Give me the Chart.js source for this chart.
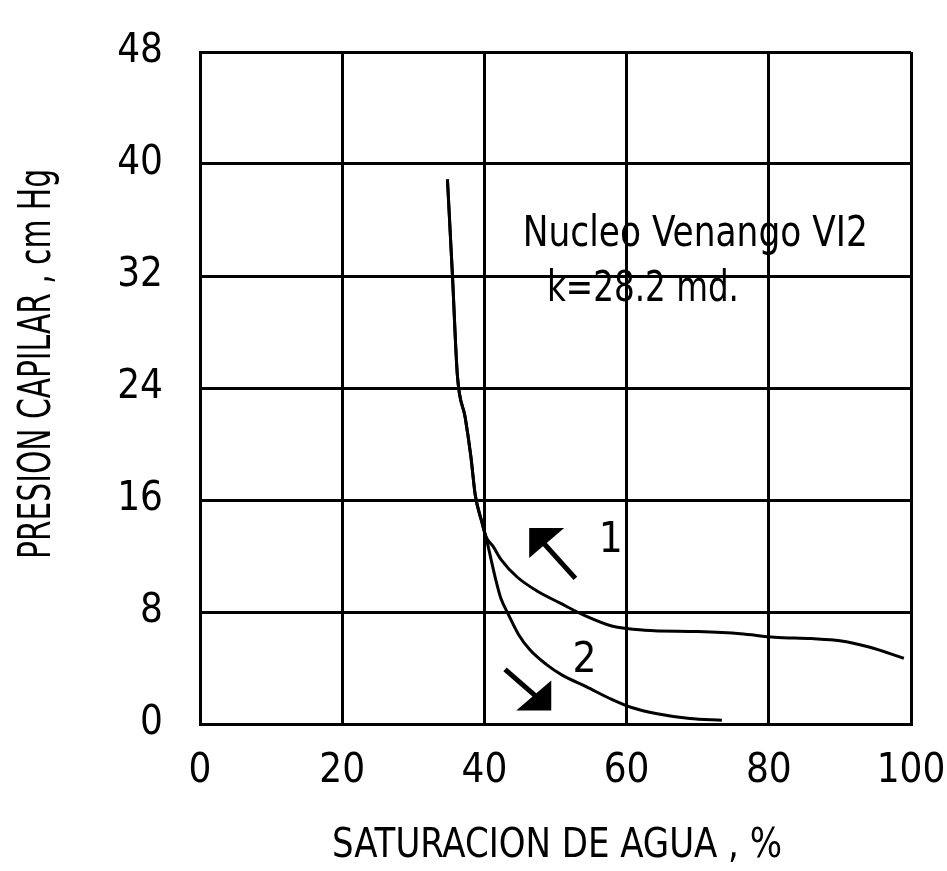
<!DOCTYPE html>
<html>
<head>
<meta charset="utf-8">
<title>Presion capilar</title>
<script src="https://cdn.jsdelivr.net/npm/chart.js@4.4.0/dist/chart.umd.min.js"></script>
<style>
  html, body { margin: 0; padding: 0; background: #fff; }
</style>
</head>
<body>
<canvas id="grafico" width="947" height="871"></canvas>
<script>
// ticks de los ejes
const ticksX = [0, 20, 40, 60, 80, 100]
const ticksY = [0, 8, 16, 24, 32, 40, 48]

const tituloX = 'SATURACION DE AGUA , %'
const tituloY = 'PRESION CAPILAR , cm Hg'

// tramo comun de las dos curvas (arriba)
const satComun = [34.8, 35.5, 36.2, 37.3, 38.1, 38.7, 39.6, 40.2]
const presComun = [38.9, 32.1, 24.9, 21.9, 19.1, 16.4, 14.5, 13.4]

// curva 1
const sat1 = [41.2, 42.4, 44.6, 47.4, 50.6, 54.3, 57.9, 62.5, 70.0, 76.0, 80.8, 86.0, 90.0, 94.1, 99.0]
const pres1 = [12.7, 11.7, 10.5, 9.5, 8.65, 7.7, 7.0, 6.7, 6.6, 6.45, 6.2, 6.1, 5.95, 5.5, 4.7]

// curva 2
const sat2 = [40.7, 41.6, 42.3, 43.4, 44.8, 46.4, 48.7, 51.0, 54.3, 57.9, 60.7, 64.3, 68.9, 73.4]
const pres2 = [12.3, 10.3, 9.0, 7.8, 6.4, 5.3, 4.26, 3.47, 2.67, 1.76, 1.18, 0.73, 0.39, 0.27]

// anotaciones (en unidades de los ejes), ancho = ancho del texto en px
const textos = [
    { texto: 'Nucleo Venango VI2', x: 45.4, y: 34.9, ancho: 345 },
    { texto: 'k=28.2 md.', x: 48.8, y: 31.0, ancho: 192 },
    { texto: '1', x: 56.1, y: 13.1, ancho: 0 },
    { texto: '2', x: 52.4, y: 4.5, ancho: 0 }
]
const flechas = [
    { desde: [52.8, 10.4], hasta: [46.3, 14.0] },
    { desde: [42.9, 3.9], hasta: [49.4, 0.96] }
]

const fuente = "'DejaVu Sans Condensed', 'DejaVu Sans', sans-serif"

function puntos(xs, ys) {
    let arr = []
    for (let i = 0; i < xs.length; i++) {
        arr.push({ x: xs[i], y: ys[i] })
    }
    return arr
}

// texto comprimido a lo ancho (la fuente original es muy estrecha)
function textoEstrecho(ctx, texto, x, y, ancho) {
    const natural = ctx.measureText(texto).width
    const k = ancho > 0 ? ancho / natural : 1
    ctx.save()
    ctx.translate(x, y)
    ctx.scale(k, 1)
    ctx.fillText(texto, 0, 0)
    ctx.restore()
}

const anotaciones = {
    id: 'anotaciones',
    afterDatasetsDraw(chart) {
        const ctx = chart.ctx
        const sx = chart.scales.x
        const sy = chart.scales.y
        ctx.save()
        ctx.fillStyle = '#000'
        ctx.strokeStyle = '#000'
        ctx.font = '42px ' + fuente
        ctx.textBaseline = 'middle'
        ctx.textAlign = 'left'
        textos.forEach(t => {
            textoEstrecho(ctx, t.texto, sx.getPixelForValue(t.x), sy.getPixelForValue(t.y), t.ancho)
        })

        flechas.forEach(f => {
            const x0 = sx.getPixelForValue(f.desde[0])
            const y0 = sy.getPixelForValue(f.desde[1])
            const x1 = sx.getPixelForValue(f.hasta[0])
            const y1 = sy.getPixelForValue(f.hasta[1])
            const dx = Math.sign(x0 - x1)
            const dy = Math.sign(y0 - y1)
            ctx.lineWidth = 5
            ctx.beginPath()
            ctx.moveTo(x0, y0)
            ctx.lineTo(x1 + dx * 8, y1 + dy * 8)
            ctx.stroke()
            ctx.beginPath()
            ctx.moveTo(x1, y1)
            ctx.lineTo(x1 + dx * 35, y1)
            ctx.lineTo(x1, y1 + dy * 30)
            ctx.closePath()
            ctx.fill()
        })

        // titulos de los ejes
        ctx.textAlign = 'center'
        ctx.font = '40px ' + fuente
        const w = ctx.measureText(tituloX).width
        ctx.save()
        ctx.translate(557, 847)
        ctx.scale(450 / w, 1)
        ctx.fillText(tituloX, 0, 0)
        ctx.restore()

        ctx.font = '45px ' + fuente
        const h = ctx.measureText(tituloY).width
        ctx.save()
        ctx.translate(38, 364)
        ctx.rotate(-Math.PI / 2)
        ctx.scale(390 / h, 1)
        ctx.fillText(tituloY, 0, 0)
        ctx.restore()

        ctx.restore()
    }
}

const linea = {
    borderColor: '#000',
    backgroundColor: '#000',
    borderWidth: 3,
    pointRadius: 0,
    cubicInterpolationMode: 'monotone',
    fill: false
}

new Chart(document.getElementById('grafico'), {
    type: 'line',
    data: {
        datasets: [
            { ...linea, label: '1', data: puntos(satComun.concat(sat1), presComun.concat(pres1)) },
            { ...linea, label: '2', data: puntos(satComun.concat(sat2), presComun.concat(pres2)) }
        ]
    },
    options: {
        responsive: false,
        animation: false,
        layout: { padding: { top: 52, right: 36, left: 0, bottom: 0 } },
        plugins: {
            legend: { display: false },
            tooltip: { enabled: false }
        },
        scales: {
            x: {
                type: 'linear',
                min: 0,
                max: 100,
                afterBuildTicks: axis => { axis.ticks = ticksX.map(v => ({ value: v })) },
                afterFit: axis => {
                    axis.height = 147
                    axis.paddingLeft = 0
                    axis.paddingRight = 0
                },
                grid: { color: '#000', lineWidth: 3, drawTicks: false },
                border: { color: '#000', width: 3 },
                ticks: { color: '#000', padding: 24, font: { family: fuente, size: 40 } }
            },
            y: {
                type: 'linear',
                min: 0,
                max: 48,
                afterBuildTicks: axis => { axis.ticks = ticksY.map(v => ({ value: v })) },
                afterFit: axis => {
                    axis.width = 200
                    axis.paddingTop = 0
                    axis.paddingBottom = 0
                },
                grid: { color: '#000', lineWidth: 3, drawTicks: false },
                border: { color: '#000', width: 3 },
                ticks: { color: '#000', padding: 37, font: { family: fuente, size: 40 } }
            }
        }
    },
    plugins: [anotaciones]
})
</script>
</body>
</html>
